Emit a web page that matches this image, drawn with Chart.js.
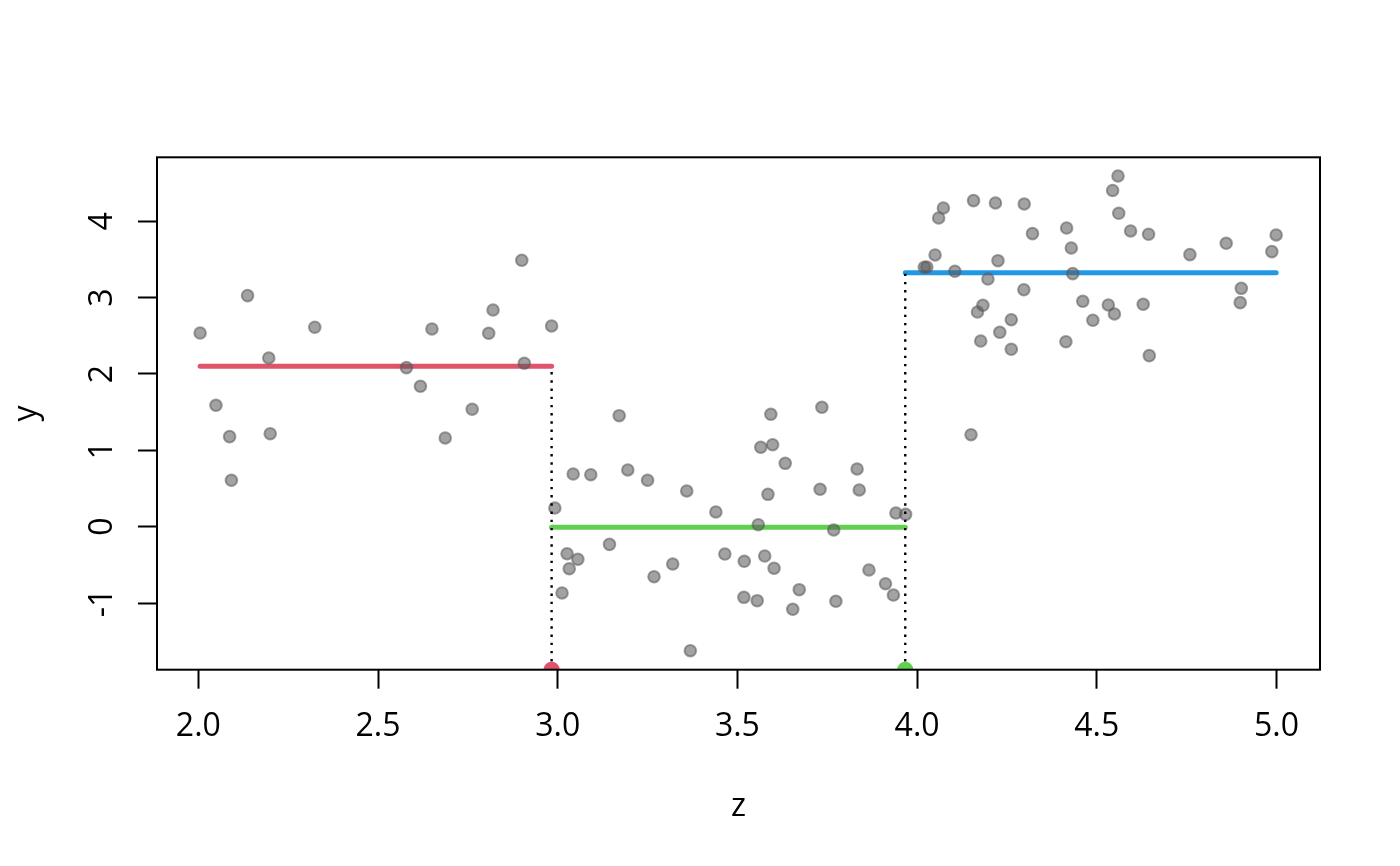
<!DOCTYPE html>
<html>
<head>
<meta charset="utf-8">
<script src="https://cdn.jsdelivr.net/npm/chart.js@4.4.1/dist/chart.umd.min.js"></script>
<style>
  html, body { margin: 0; padding: 0; background: #ffffff; }
  #wrap { width: 1400px; height: 866px; }
</style>
</head>
<body>
<div id="wrap"><canvas id="c" width="1400" height="866"></canvas></div>
<script>
// ---- data ----
const zVals = [
  2.005,2.137,2.049,2.087,2.092,2.196,2.200,2.324,2.579,2.618,2.650,2.687,2.762,2.808,2.820,2.900,2.907,2.983,
  2.992,3.043,3.092,3.171,3.195,3.250,3.359,3.440,3.593,3.735,3.565,3.598,3.633,3.585,3.833,3.730,3.839,3.941,3.968,3.558,3.768,
  3.026,3.056,3.032,3.012,3.144,3.268,3.320,3.465,3.519,3.576,3.602,3.518,3.555,3.654,3.672,3.774,3.866,3.912,3.934,3.369,
  4.027,4.020,4.050,4.060,4.073,4.105,4.157,4.150,4.183,4.168,4.177,4.197,4.218,4.225,4.230,4.262,4.262,4.298,4.297,4.321,
  4.416,4.429,4.433,4.414,4.461,4.489,4.532,4.549,4.559,4.544,4.561,4.594,4.644,4.629,4.646,4.759,4.860,4.902,4.899,4.987,4.999
];
const yVals = [
  2.537,3.026,1.590,1.179,0.608,2.210,1.218,2.612,2.083,1.839,2.589,1.162,1.538,2.533,2.838,3.489,2.140,2.629,
  0.245,0.690,0.681,1.454,0.743,0.608,0.468,0.193,1.472,1.564,1.040,1.074,0.830,0.424,0.756,0.490,0.481,0.179,0.162,0.026,-0.043,
  -0.354,-0.427,-0.550,-0.868,-0.231,-0.655,-0.489,-0.358,-0.453,-0.384,-0.545,-0.925,-0.969,-1.082,-0.825,-0.977,-0.567,-0.747,-0.895,-1.624,
  3.401,3.398,3.559,4.043,4.174,3.345,4.270,1.205,2.900,2.812,2.432,3.244,4.240,3.484,2.546,2.711,2.324,4.227,3.104,3.838,
  3.912,3.650,3.314,2.423,2.952,2.703,2.904,2.786,4.593,4.403,4.105,3.873,3.830,2.913,2.240,3.563,3.712,3.122,2.934,3.602,3.821
];
// piecewise-constant fit
const segStart = [2.005, 2.983, 3.967];
const segEnd   = [2.983, 3.967, 4.999];
const segLevel = [2.101, -0.008, 3.327];
const segColors = ['#DF536B', '#61D04F', '#2297E6'];
// knots (breakpoints)
const knotX = [2.983, 3.967];
const knotColors = ['#DF536B', '#61D04F'];
// axes
const xTicks = [2.0, 2.5, 3.0, 3.5, 4.0, 4.5, 5.0];
const yTicks = [-1, 0, 1, 2, 3, 4];
const xMin = 1.885, xMax = 5.121;
const yMin = -1.873, yMax = 4.838;
const xTitle = 'z', yTitle = 'y';

const FONT = "'Open Sans', 'Noto Sans', sans-serif";

function build() {
  const datasets = [];
  // scatter points
  datasets.push({
    type: 'scatter',
    data: zVals.map((x, i) => ({ x: x, y: yVals[i] })),
    pointRadius: 5.8,
    pointBackgroundColor: 'rgba(90,90,90,0.56)',
    pointBorderColor: 'rgba(90,90,90,0.56)',
    pointBorderWidth: 2,
    showLine: false,
    order: 2
  });
  // step segments
  segLevel.forEach((lv, i) => {
    datasets.push({
      type: 'line',
      data: [{ x: segStart[i], y: lv }, { x: segEnd[i], y: lv }],
      borderColor: segColors[i],
      borderWidth: 5,
      borderCapStyle: 'round',
      pointRadius: 0,
      fill: false,
      order: 3
    });
  });
  // dotted verticals at knots
  knotX.forEach((k, i) => {
    const top = Math.max(segLevel[i], segLevel[i + 1]);
    datasets.push({
      type: 'line',
      data: [{ x: k, y: yMin }, { x: k, y: top }],
      borderColor: '#000000',
      borderWidth: 2.4,
      borderDash: [2.4, 5.8],
      borderCapStyle: 'butt',
      pointRadius: 0,
      fill: false,
      order: 1
    });
  });
  // knot markers on the bottom edge
  datasets.push({
    type: 'scatter',
    data: knotX.map(k => ({ x: k, y: yMin })),
    pointRadius: 8,
    pointBackgroundColor: knotColors,
    pointBorderColor: knotColors,
    pointBorderWidth: 0,
    clip: 0,
    order: 0
  });

  const textPlugin = {
    id: 'rtext',
    afterDraw(chart) {
      const ctx = chart.ctx;
      const a = chart.chartArea;
      const ys = chart.scales.y;
      ctx.save();
      ctx.strokeStyle = '#000';
      ctx.lineWidth = 2;
      ctx.strokeRect(a.left, a.top, a.right - a.left, a.bottom - a.top);
      ctx.fillStyle = '#000';
      ctx.font = '32px ' + FONT;
      ctx.textAlign = 'center';
      ctx.textBaseline = 'alphabetic';
      yTicks.forEach(v => {
        const py = ys.getPixelForValue(v);
        ctx.save();
        ctx.translate(112, py);
        ctx.rotate(-Math.PI / 2);
        ctx.fillText(String(v), 0, 0);
        ctx.restore();
      });
      ctx.save();
      ctx.translate(35.5, (a.top + a.bottom) / 2);
      ctx.rotate(-Math.PI / 2);
      ctx.fillText(yTitle, 0, 0);
      ctx.restore();
      ctx.fillText(xTitle, (a.left + a.right) / 2, 816);
      ctx.restore();
    }
  };

  new Chart(document.getElementById('c'), {
    type: 'scatter',
    data: { datasets: datasets },
    options: {
      responsive: false,
      devicePixelRatio: 1,
      animation: false,
      layout: { padding: { left: 0, top: 157.3, right: 80, bottom: 0 } },
      plugins: { legend: { display: false }, tooltip: { enabled: false } },
      scales: {
        x: {
          type: 'linear',
          min: xMin, max: xMax,
          afterBuildTicks: s => { s.ticks = xTicks.map(v => ({ value: v })); },
          afterFit: s => { s.height = 866 - 669.7; },
          border: { display: false },
          grid: { display: true, drawOnChartArea: false, drawTicks: true, tickLength: 19, tickWidth: 2, tickColor: '#000' },
          ticks: {
            color: '#000',
            font: { family: FONT, size: 32 },
            padding: 19,
            maxRotation: 0, minRotation: 0,
            autoSkip: false,
            callback: v => Number(v).toFixed(1)
          }
        },
        y: {
          type: 'linear',
          min: yMin, max: yMax,
          afterBuildTicks: s => { s.ticks = yTicks.map(v => ({ value: v })); },
          afterFit: s => { s.width = 157; },
          border: { display: false },
          grid: { display: true, drawOnChartArea: false, drawTicks: true, tickLength: 19, tickWidth: 2, tickColor: '#000' },
          ticks: { display: false }
        }
      }
    },
    plugins: [textPlugin]
  });
}

if (document.fonts && document.fonts.load) {
  document.fonts.load("32px 'Open Sans'").then(build, build);
} else {
  build();
}
</script>
</body>
</html>
